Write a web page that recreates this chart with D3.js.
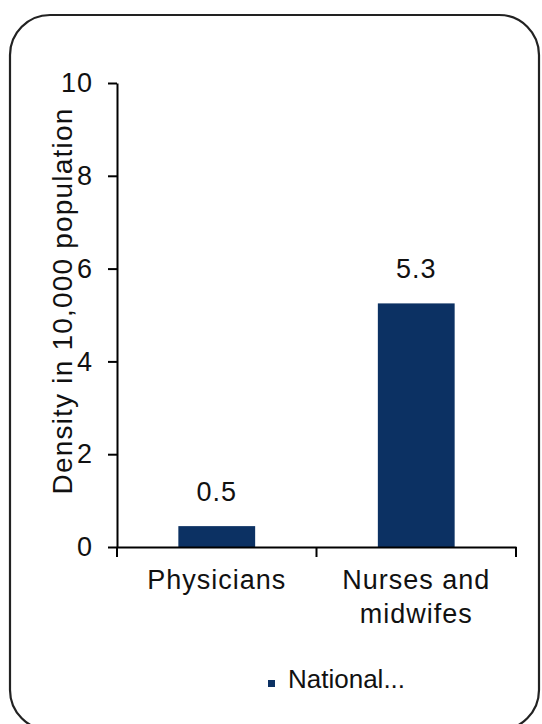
<!DOCTYPE html>
<html>
<head>
<meta charset="utf-8">
<script src="https://cdn.jsdelivr.net/npm/d3@7"></script>
<style>
  html, body { margin: 0; padding: 0; background: #fff; }
  svg { display: block; }
  text { font-family: "Liberation Sans", Arial, sans-serif; fill: #111; }
</style>
</head>
<body>
<svg id="chart" width="542" height="724"></svg>
<script>
const categories = ["Physicians", "Nurses and midwifes"];
const categoryLines = [["Physicians"], ["Nurses and", "midwifes"]];
const values = [0.45, 5.25];
const yTicks = [0, 2, 4, 6, 8, 10];
const seriesName = "National...";
const yTitle = "Density in 10,000 population";

const svg = d3.select("#chart");
const barColor = "#0c3163";

// frame
svg.append("rect")
  .attr("x", 10).attr("y", 15).attr("width", 529).attr("height", 715)
  .attr("rx", 40).attr("ry", 40)
  .attr("fill", "#fff").attr("stroke", "#222").attr("stroke-width", 2.2);

const y = d3.scaleLinear().domain([0, 10]).range([547, 83]);
const x = d3.scaleBand().domain(categories).range([117, 516]).padding(0);

// y axis
const yAxis = svg.append("g").attr("transform", "translate(117,0)")
  .call(d3.axisLeft(y).tickValues(yTicks).tickSize(9).tickSizeOuter(0).tickPadding(15).tickFormat(d3.format("d")));
yAxis.select(".domain").attr("stroke", "#000").attr("stroke-width", 2);
yAxis.selectAll(".tick line").attr("stroke", "#000").attr("stroke-width", 2);
yAxis.selectAll(".tick text").attr("font-size", 27).attr("letter-spacing", 1)
  .style("font-family", "'Liberation Sans', Arial, sans-serif").attr("fill", "#111");

// bars
const bw = x.bandwidth() * 0.385;
svg.selectAll("rect.bar").data(values).enter().append("rect")
  .attr("class", "bar")
  .attr("x", (d, i) => x(categories[i]) + x.bandwidth() / 2 - bw / 2)
  .attr("y", d => y(d))
  .attr("width", bw)
  .attr("height", d => y(0) - y(d))
  .attr("fill", barColor);

// value labels
svg.selectAll("text.val").data(values).enter().append("text")
  .attr("class", "val")
  .attr("x", (d, i) => x(categories[i]) + x.bandwidth() / 2)
  .attr("y", d => y(d) - 25)
  .attr("text-anchor", "middle")
  .attr("font-size", 27).attr("letter-spacing", 1)
  .text(d => d3.format(".1f")(d));

// x axis
const xAxis = svg.append("g").attr("transform", `translate(0,${y(0)})`)
  .call(d3.axisBottom(x).tickSize(0).tickSizeOuter(0).tickFormat(""));
xAxis.select(".domain").attr("stroke", "#000").attr("stroke-width", 2);
const xTickPos = categories.map(c => x(c)).concat([x.range()[1]]);
xAxis.selectAll("line.sep").data(xTickPos).enter().append("line")
  .attr("class", "sep")
  .attr("x1", d => d).attr("x2", d => d)
  .attr("y1", 0).attr("y2", 10)
  .attr("stroke", "#000").attr("stroke-width", 2);

// category labels
const catG = svg.selectAll("text.cat").data(categoryLines).enter().append("text")
  .attr("class", "cat")
  .attr("text-anchor", "middle")
  .attr("font-size", 27).attr("letter-spacing", 1)
  .attr("transform", (d, i) => `translate(${x(categories[i]) + x.bandwidth() / 2},589)`);
catG.selectAll("tspan").data(d => d).enter().append("tspan")
  .attr("x", 0).attr("y", (d, j) => j * 34)
  .text(d => d);

// y title
svg.append("text")
  .attr("transform", "translate(72,301) rotate(-90)")
  .attr("text-anchor", "middle")
  .attr("font-size", 28).attr("letter-spacing", 1.2)
  .text(yTitle);

// legend
svg.append("rect").attr("x", 268).attr("y", 680).attr("width", 7).attr("height", 7).attr("fill", barColor);
svg.append("text").attr("x", 288).attr("y", 688).attr("font-size", 26).text(seriesName);
</script>
</body>
</html>
